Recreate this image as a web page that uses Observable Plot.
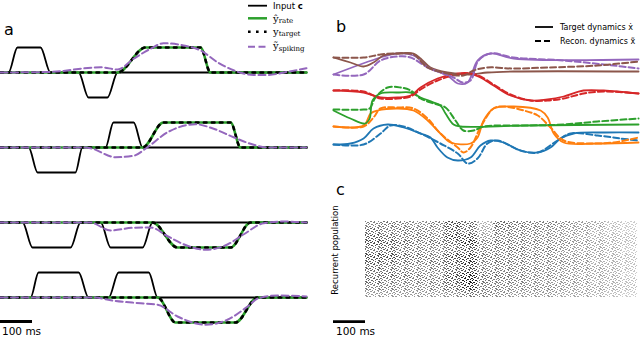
<!DOCTYPE html>
<html><head><meta charset="utf-8">
<script src="https://cdn.jsdelivr.net/npm/d3@7"></script>
<script src="https://cdn.jsdelivr.net/npm/@observablehq/plot@0.6"></script>
<style>
html,body{margin:0;padding:0;background:#fff;}
#fig{position:relative;width:640px;height:337px;overflow:hidden;font-family:"DejaVu Sans",sans-serif;}
#fig > svg, #fig > div{position:absolute;}
</style></head><body><div id="fig"></div>
<script>
// ---------- shared ----------
const timeDomain = [0, 956];       // ms
const scaleBarMs = 100;

// ---------- panel a: 4 trials, [time ms, value] ----------
const rowOffsets = [0, -3, -6, -9];
const input1 = [[0,0],[25,0],[53,1],[125,1],[156,0],[244,0],[275,-1],[334,-1],[366,0],[956,0]];
const input2 = [[0,0],[88,0],[116,-1],[234,-1],[256,0],[328,0],[353,1],[416,1],[444,0],[956,0]];
const input3 = [[0,0],[69,0],[100,-1],[219,-1],[250,0],[313,0],[344,-1],[444,-1],[475,0],[956,0]];
const input4 = [[0,0],[94,0],[119,1],[244,1],[275,0],[338,0],[369,1],[463,1],[491,0],[956,0]];
const target1 = [[0,0],[366,0],[453,1],[625,1],[656,0],[956,0]];
const target2 = [[0,0],[444,0],[509,1],[719,1],[750,0],[956,0]];
const target3 = [[0,0],[475,0],[553,-1],[719,-1],[781,0],[956,0]];
const target4 = [[0,0],[491,0],[547,-1],[734,-1],[803,0],[956,0]];
const spiking1 = [[0,0],[150,0.02],[313,0.21],[366,0.12],[416,0.55],[469,0.95],[509,1.17],[572,1.08],[625,0.88],[678,0.41],[728,0.09],[791,-0.1],[834,-0.1],[897,0.03],[956,0.17]];
const spiking2 = [[0,0],[250,0],[281,-0.03],[359,-0.39],[416,-0.33],[453,-0.05],[522,0.61],[609,0.93],[666,0.75],[728,0.41],[791,0.11],[834,0],[956,0]];
const spiking3 = [[0,0],[280,0],[344,-0.32],[416,-0.21],[469,-0.2],[522,-0.55],[584,-0.93],[641,-1.09],[709,-0.88],[759,-0.48],[822,-0.03],[884,0.04],[956,0]];
const spiking4 = [[0,0],[290,0],[353,-0.13],[438,-0.23],[491,-0.29],[553,-0.76],[641,-1.09],[709,-0.89],[772,-0.36],[806,-0.03],[866,0.08],[956,0.04]];

// ---------- panel b: 6 latent dimensions, [time ms, value] ----------
const bColors = ["#1f77b4","#ff7f0e","#2ca02c","#d62728","#9467bd","#8c564b"];
const targetBlue = [[0,1.6],[53,1.7],[94,2.2],[125,3.2],[169,3.6],[219,3.3],[272,2.7],[303,2.3],[325,1.3],[356,0.3],[388,0.0],[428,0.3],[459,1.5],[491,2.0],[531,1.8],[584,1.0],[638,0.8],[678,1.3],[709,2.2],[750,2.7],[850,2.8],[953,2.8]];
const reconBlue = [[0,1.6],[94,1.6],[147,2.7],[178,3.5],[219,3.4],[272,2.7],[334,1.7],[388,0.7],[419,-0.3],[450,0.2],[481,1.7],[513,2.0],[584,1.0],[638,0.8],[700,2.0],[741,2.7],[825,2.5],[897,2.2],[953,2.0]];
const targetOrange = [[0,3.4],[94,3.5],[116,4.7],[138,5.0],[200,5.2],[250,5.0],[294,4.0],[334,2.7],[366,1.8],[428,1.7],[450,2.3],[469,4.0],[500,5.2],[563,5.4],[647,5.0],[669,4.3],[688,2.7],[719,1.8],[825,1.7],[953,1.8]];
const reconOrange = [[0,3.4],[94,3.4],[125,4.3],[147,5.2],[200,5.3],[250,5.2],[294,4.2],[334,2.7],[388,1.3],[406,0.8],[428,1.3],[459,3.3],[500,5.2],[531,5.4],[594,5.0],[638,4.5],[678,3.3],[719,2.0],[803,1.7],[875,1.8],[953,2.3]];
const targetGreen = [[0,5.0],[53,4.2],[100,3.7],[113,4.2],[122,6.0],[147,6.7],[200,6.8],[241,6.8],[272,6.3],[313,5.8],[334,5.5],[350,4.7],[375,3.6],[397,3.4],[600,3.5],[953,3.6]];
const reconGreen = [[0,5.1],[94,5.1],[113,5.2],[131,6.3],[169,7.3],[209,7.3],[241,7.0],[272,6.2],[313,5.7],[350,5.3],[381,4.0],[406,3.0],[438,3.0],[469,3.4],[616,3.5],[719,3.6],[825,3.9],[953,4.2]];
const targetRed = [[0,7.0],[94,6.8],[147,6.3],[200,6.3],[241,6.5],[272,7.3],[325,8.2],[388,8.7],[428,8.7],[459,8.3],[500,7.5],[553,6.5],[616,6.0],[669,6.1],[719,6.4],[781,7.0],[844,7.0],[953,6.7]];
const reconRed = [[0,7.0],[94,6.9],[147,6.2],[200,6.2],[241,6.4],[272,7.1],[325,8.0],[388,8.6],[428,8.7],[459,8.4],[500,7.6],[553,6.6],[616,6.0],[669,6.0],[719,6.2],[781,6.7],[844,6.9],[953,6.7]];
const targetPurple = [[0,8.6],[147,10.3],[200,10.7],[250,10.5],[303,9.2],[356,8.5],[388,7.7],[419,7.8],[450,10.0],[491,10.7],[563,10.2],[953,10.1]];
const reconPurple = [[0,8.6],[94,8.6],[147,10.0],[200,10.4],[241,10.3],[294,9.3],[334,8.8],[375,8.3],[403,7.8],[428,8.0],[453,10.0],[491,10.7],[563,10.3],[719,10.0],[875,9.5],[953,9.2]];
const targetBrown = [[0,10.3],[53,9.8],[94,9.4],[125,9.8],[156,10.5],[200,10.7],[250,10.7],[272,10.2],[303,9.3],[356,8.8],[428,8.6],[481,8.8],[563,8.9],[953,8.9]];
const reconBrown = [[0,10.3],[94,10.3],[147,10.6],[200,10.7],[250,10.6],[294,9.3],[356,8.7],[406,8.5],[438,9.0],[481,9.3],[563,9.2],[669,9.3],[825,9.5],[953,9.9]];

// ---------- panel c: spike density (12 neuron groups x 50 ms bins) ----------
const binStarts = [100,150,200,250,300,350,400,450,500,550,600,650,700,750,800,850,900];
const binWidth = 50;
const density = [
  [0.5,0.55,0.5,0.45,0.5,0.7,0.6,0.3,0.6,0.55,0.5,0.5,0.45,0.4,0.35,0.25,0.2],
  [0.6,0.5,0.55,0.5,0.45,0.65,0.55,0.35,0.55,0.5,0.5,0.45,0.4,0.4,0.3,0.25,0.2],
  [0.65,0.6,0.5,0.55,0.5,0.75,0.7,0.4,0.5,0.5,0.45,0.45,0.4,0.35,0.3,0.3,0.25],
  [0.7,0.65,0.6,0.5,0.55,0.6,0.8,0.5,0.55,0.5,0.5,0.45,0.45,0.4,0.35,0.3,0.25],
  [0.55,0.6,0.5,0.5,0.45,0.55,0.65,0.5,0.5,0.55,0.45,0.5,0.4,0.35,0.35,0.3,0.2],
  [0.7,0.7,0.6,0.55,0.5,0.7,0.75,0.55,0.5,0.5,0.5,0.45,0.4,0.4,0.35,0.3,0.25],
  [0.65,0.6,0.55,0.5,0.55,0.65,0.8,0.5,0.55,0.5,0.45,0.45,0.45,0.4,0.3,0.3,0.25],
  [0.6,0.55,0.5,0.45,0.5,0.6,0.7,0.5,0.5,0.5,0.5,0.45,0.4,0.4,0.35,0.3,0.25],
  [0.55,0.6,0.55,0.5,0.45,0.7,0.85,0.55,0.55,0.5,0.45,0.45,0.4,0.35,0.35,0.3,0.2],
  [0.6,0.5,0.5,0.5,0.5,0.65,0.9,0.55,0.5,0.5,0.45,0.4,0.4,0.4,0.3,0.3,0.25],
  [0.5,0.5,0.45,0.45,0.5,0.6,0.8,0.5,0.5,0.45,0.45,0.45,0.4,0.35,0.35,0.3,0.25],
  [0.4,0.4,0.4,0.4,0.4,0.45,0.55,0.5,0.45,0.4,0.4,0.4,0.35,0.35,0.3,0.25,0.2]
];

// ---------- build tables ----------
const fig = document.getElementById("fig");
const toRows = (series) => series.flatMap((s, k) => s.map(([t, v]) => ({t, v: v + rowOffsets[k], row: k})));
const aInput = toRows([input1, input2, input3, input4]);
const aTarget = toRows([target1, target2, target3, target4]);
const aSpike = toRows([spiking1, spiking2, spiking3, spiking4]);

const targets = [targetBlue, targetOrange, targetGreen, targetRed, targetPurple, targetBrown];
const recons = [reconBlue, reconOrange, reconGreen, reconRed, reconPurple, reconBrown];
const toB = (list) => list.flatMap((s, k) => s.map(([t, v]) => ({t, v, dim: k})));
const bTarget = toB(targets);
const bRecon = toB(recons);

const cells = density.flatMap((row, r) => row.map((d, j) => ({x1: binStarts[j], x2: binStarts[j] + binWidth, y1: r, y2: r + 1, d})));

const baseStyle = {background: "transparent", overflow: "visible"};

// ---------- panel a ----------
const plotA = Plot.plot({
  width: 310, height: 337, marginLeft: 0, marginRight: 4, marginTop: 0, marginBottom: 0,
  style: baseStyle,
  x: {domain: timeDomain, axis: null},
  y: {domain: [-10.6, 2.88], axis: null},
  marks: [
    Plot.line(aInput, {x: "t", y: "v", z: "row", stroke: "black", strokeWidth: 1.8, curve: "monotone-x"}),
    Plot.line(aTarget, {x: "t", y: "v", z: "row", stroke: "#2ca02c", strokeWidth: 2.6, curve: "monotone-x"}),
    Plot.line(aTarget, {x: "t", y: "v", z: "row", stroke: "black", strokeWidth: 2.6, strokeDasharray: "2.6,5.4", curve: "monotone-x"}),
    Plot.line(aSpike, {x: "t", y: "v", z: "row", stroke: "#9467bd", strokeWidth: 2, strokeDasharray: "7,3.5", curve: "monotone-x"}),
    Plot.ruleY([-9.96], {x1: 0, x2: scaleBarMs, stroke: "black", strokeWidth: 2.8})
  ]
});
plotA.style.left = "0px"; plotA.style.top = "0px";
fig.appendChild(plotA);

// ---------- panel b ----------
const plotB = Plot.plot({
  width: 310, height: 170, marginLeft: 3, marginRight: 1, marginTop: 0, marginBottom: 0,
  style: baseStyle,
  x: {domain: timeDomain, axis: null},
  y: {domain: [-1, 16], axis: null},
  color: {domain: d3.range(6), range: bColors},
  marks: [
    Plot.line(bTarget, {x: "t", y: "v", z: "dim", stroke: "dim", strokeWidth: 1.8, curve: "catmull-rom"}),
    Plot.line(bRecon, {x: "t", y: "v", z: "dim", stroke: "dim", strokeWidth: 2, strokeDasharray: "6,3", curve: "catmull-rom"})
  ]
});
plotB.style.left = "330px"; plotB.style.top = "0px";
fig.appendChild(plotB);

// ---------- panel c ----------
const plotC = Plot.plot({
  width: 310, height: 167, marginLeft: 3, marginRight: 1, marginTop: 51, marginBottom: 40,
  style: baseStyle,
  x: {domain: timeDomain, axis: null},
  y: {domain: [0, 12], reverse: true, axis: null},
  opacity: {domain: [0, 0.9], range: [0, 1], clamp: true},
  marks: [
    Plot.rect(cells, {x1: "x1", x2: "x2", y1: "y1", y2: "y2", fill: "black", fillOpacity: "d"}),
    Plot.ruleY([15.8], {x1: 0, x2: scaleBarMs, stroke: "black", strokeWidth: 2.8})
  ]
});
plotC.style.left = "330px"; plotC.style.top = "170px";
const ns = "http://www.w3.org/2000/svg";
const defs = document.createElementNS(ns, "defs");
// speckle texture standing in for individual spikes (style only)
const speck = [[0,0,2],[6,0,1],[10,0,2],[3,1,1],[8,1,2],[12,1,1],[1,2,2],[5,2,1],[9,2,1],
               [4,3,2],[11,3,2],[0,4,1],[7,4,2],[10,4,1],[2,5,2],[6,5,1],[12,5,1],[4,6,1],[9,6,2]];
defs.innerHTML = `<pattern id="spk" width="13" height="7" patternUnits="userSpaceOnUse">${
  speck.map(([x, y, w]) => `<rect x="${x}" y="${y}" width="${w}" height="1" fill="#000"/>`).join("")}</pattern>`;
plotC.insertBefore(defs, plotC.firstChild);
const rg = plotC.querySelector('g[aria-label="rect"]');
if (rg) { rg.setAttribute("fill", "url(#spk)"); rg.querySelectorAll("rect").forEach(r => r.removeAttribute("fill")); }
fig.appendChild(plotC);

// ---------- labels & legends overlay ----------
const overlay = document.createElementNS(ns, "svg");
overlay.setAttribute("width", 640); overlay.setAttribute("height", 337);
overlay.style.left = "0px"; overlay.style.top = "0px";
overlay.style.pointerEvents = "none";
overlay.innerHTML = `
<g font-family="DejaVu Sans, sans-serif" fill="#000">
  <text x="4" y="35" font-size="16">a</text>
  <text x="336" y="32" font-size="16">b</text>
  <text x="336" y="195" font-size="16">c</text>
  <text x="2" y="335" font-size="10.5">100 ms</text>
  <text x="336" y="335" font-size="10.5">100 ms</text>
  <text transform="translate(338,250) rotate(-90)" text-anchor="middle" font-size="8.5">Recurrent population</text>
</g>
<g>
  <line x1="248" x2="267" y1="5.7" y2="5.7" stroke="#000" stroke-width="1.8"/>
  <line x1="248" x2="267" y1="18.3" y2="18.3" stroke="#2ca02c" stroke-width="2.5"/>
  <line x1="248" x2="267" y1="31.7" y2="31.7" stroke="#000" stroke-width="2.6" stroke-dasharray="2.6,5.4"/>
  <line x1="248" x2="267" y1="46.7" y2="46.7" stroke="#9467bd" stroke-width="2" stroke-dasharray="7,3.5"/>
  <text x="273" y="9" font-size="8.5" font-family="DejaVu Sans, sans-serif">Input <tspan font-weight="bold">c</tspan></text>
  <text x="273" y="21.5" font-size="10" font-family="DejaVu Serif, serif">ŷ<tspan font-size="7" dy="1.5">rate</tspan></text>
  <text x="273" y="34.5" font-size="10" font-family="DejaVu Serif, serif">y<tspan font-size="7" dy="1.5">target</tspan></text>
  <text x="273" y="49" font-size="10" font-family="DejaVu Serif, serif">ỹ<tspan font-size="7" dy="1.5">spiking</tspan></text>
</g>
<g font-family="DejaVu Sans, sans-serif" font-size="8">
  <line x1="535" x2="553" y1="27" y2="27" stroke="#000" stroke-width="1.8"/>
  <line x1="535" x2="553" y1="41" y2="41" stroke="#000" stroke-width="2" stroke-dasharray="6,3"/>
  <text x="560" y="30">Target dynamics ẋ</text>
  <text x="560" y="44">Recon. dynamics x̃</text>
</g>`;
fig.appendChild(overlay);
</script>
</body></html>
